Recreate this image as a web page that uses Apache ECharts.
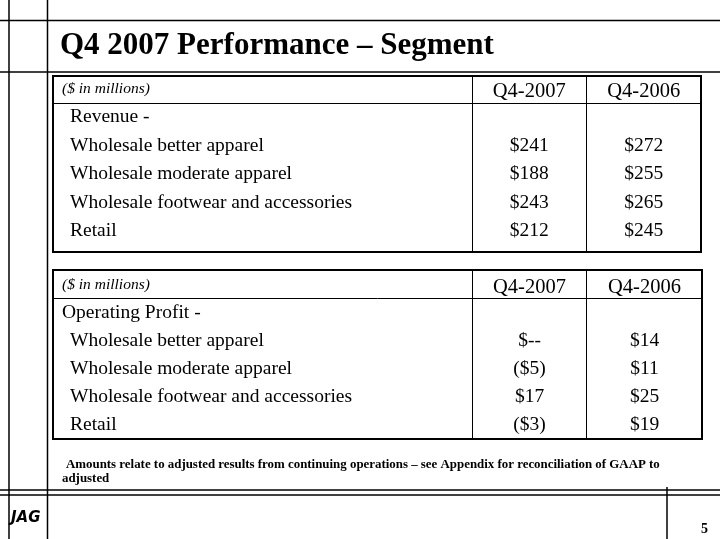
<!DOCTYPE html>
<html>
<head>
<meta charset="utf-8">
<script src="https://cdn.jsdelivr.net/npm/echarts@6/dist/echarts.min.js"></script>
<style>
  html, body { margin: 0; padding: 0; background: #fff; }
  #chart { width: 720px; height: 539px; }
</style>
</head>
<body>
<div id="chart"></div>
<script>
// ---- data ----
const titleText = 'Q4 2007 Performance \u2013 Segment';
const unitLabel = '($ in millions)';
const columns = ['Q4-2007', 'Q4-2006'];
const revenueHeading = 'Revenue -';
const profitHeading = 'Operating Profit -';
const segments = ['Wholesale better apparel', 'Wholesale moderate apparel', 'Wholesale footwear and accessories', 'Retail'];
const revenue2007 = [241, 188, 243, 212];
const revenue2006 = [272, 255, 265, 245];
const profit2007 = [null, -5, 17, -3];   // null shown as "$--"
const profit2006 = [14, 11, 25, 19];
const footnote1 = 'Amounts relate to adjusted results from continuing operations \u2013 see Appendix for reconciliation of GAAP to';
const footnote2 = 'adjusted';
const pageNumber = '5';
const logoText = 'JAG';

// ---- helpers ----
const FONT = '"Liberation Serif", "Times New Roman", serif';
function fmt(v) {
  if (v === null || v === undefined) return '$--';
  if (v < 0) return '($' + (-v) + ')';
  return '$' + v;
}
function toData(col, values) {
  return values.map((v, i) => ({ value: [col, segments[i]], raw: v }));
}
function valueSeries(idx, col, values) {
  return {
    type: 'scatter', xAxisIndex: idx, yAxisIndex: idx,
    symbolSize: 0, silent: true,
    itemStyle: { opacity: 1, color: '#000' },
    data: toData(col, values),
    label: {
      show: true, position: 'inside', color: '#000', opacity: 1,
      fontFamily: FONT, fontSize: 19.5,
      formatter: p => fmt(p.data.raw)
    }
  };
}
function xAxisFor(idx) {
  return {
    type: 'category', gridIndex: idx, data: columns, position: 'top',
    axisLine: { show: false }, axisTick: { show: false }, splitLine: { show: false },
    axisLabel: { margin: 11.5, verticalAlign: 'middle', fontFamily: FONT, fontSize: 20.5, color: '#000' }
  };
}
function yAxisFor(idx, heading, headingIndented) {
  return {
    type: 'category', gridIndex: idx, inverse: true,
    data: [heading].concat(segments),
    axisLine: { show: false }, axisTick: { show: false }, splitLine: { show: false },
    axisLabel: {
      margin: 410, align: 'left', verticalAlign: 'middle',
      formatter: (v, i) => (i === 0 && !headingIndented) ? '{h|' + v + '}' : '{i|' + v + '}',
      rich: {
        h: { fontFamily: FONT, fontSize: 19.5, color: '#000' },
        i: { fontFamily: FONT, fontSize: 19.5, color: '#000', padding: [0, 0, 0, 8] }
      }
    }
  };
}
function line(x1, y1, x2, y2, w) {
  return { type: 'line', silent: true, shape: { x1, y1, x2, y2 }, style: { stroke: '#000', lineWidth: w || 1 } };
}
function tableFrame(top, header, bottom, right) {
  return [
    { type: 'rect', silent: true, shape: { x: 53, y: top, width: right - 53, height: bottom - top },
      style: { fill: 'none', stroke: '#000', lineWidth: 2 } },
    line(53, header, right, header, 1),
    line(472.5, top, 472.5, bottom, 1),
    line(586.5, top, 586.5, bottom, 1)
  ];
}

const chart = echarts.init(document.getElementById('chart'), null, { renderer: 'canvas' });
const graphics = [].concat(
  [
    line(9, 0, 9, 539, 1.5),
    line(47.5, 0, 47.5, 539, 1.5),
    line(0, 20.5, 720, 20.5, 1.5),
    line(0, 72, 720, 72, 1.5),
    line(0, 490, 720, 490, 1.5),
    line(0, 495, 720, 495, 1.5),
    line(667, 487, 667, 539, 1.5)
  ],
  tableFrame(76, 103.5, 252, 701),
  tableFrame(270, 298.5, 439, 702),
  [
    { type: 'text', silent: true, left: 60, top: 30,
      style: { text: titleText, fill: '#000', font: 'bold 31px ' + FONT } },
    { type: 'text', silent: true, left: 62, top: 81,
      style: { text: unitLabel, fill: '#000', font: 'italic 15.5px ' + FONT } },
    { type: 'text', silent: true, left: 62, top: 277,
      style: { text: unitLabel, fill: '#000', font: 'italic 15.5px ' + FONT } },
    { type: 'text', silent: true, left: 66, top: 458,
      style: { text: footnote1, fill: '#000', font: 'bold 12.9px ' + FONT } },
    { type: 'text', silent: true, left: 62, top: 472,
      style: { text: footnote2, fill: '#000', font: 'bold 12.9px ' + FONT } },
    { type: 'text', silent: true, left: 701, top: 522,
      style: { text: pageNumber, fill: '#000', font: 'bold 14px ' + FONT } },
    { type: 'text', silent: true, left: 11, top: 511,
      style: { text: logoText, fill: '#000', font: 'bold italic 15px "DejaVu Sans", sans-serif' } }
  ]
);

chart.setOption({
  animation: false,
  backgroundColor: '#fff',
  grid: [
    { left: 472, top: 102.75, width: 229, height: 142.5 },
    { left: 472, top: 299, width: 230, height: 140 }
  ],
  xAxis: [xAxisFor(0), xAxisFor(1)],
  yAxis: [yAxisFor(0, revenueHeading, true), yAxisFor(1, profitHeading, false)],
  series: [
    valueSeries(0, columns[0], revenue2007),
    valueSeries(0, columns[1], revenue2006),
    valueSeries(1, columns[0], profit2007),
    valueSeries(1, columns[1], profit2006)
  ],
  graphic: graphics
});
</script>
</body>
</html>
